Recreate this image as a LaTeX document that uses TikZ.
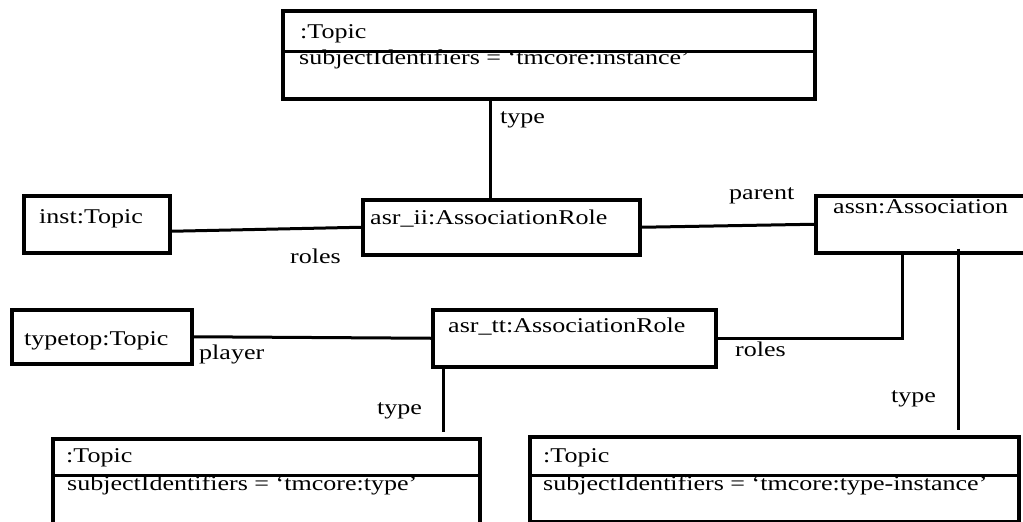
\documentclass[tikz,border=0pt]{standalone}
\usepackage{fontspec}
\setmainfont{Liberation Serif}[FakeStretch=1.24]
\usetikzlibrary{positioning, calc}

\begin{document}
\begin{tikzpicture}[x=1pt, y=-1pt, font=\fontsize{21}{25}\selectfont,
    objbox/.style={draw, line width=3.5pt, anchor=north west, inner sep=0pt},
    txt/.style={anchor=base west, inner sep=0pt},
    conn/.style={line width=3pt}]
    \useasboundingbox (0,0) rectangle (1023,522);
    \clip (0,0) rectangle (1023,522);

    % object boxes
    \node[objbox, minimum width=532pt, minimum height=88pt] (insttype) at (281,9) {};
    \node[objbox, minimum width=146pt, minimum height=57pt] (inst) at (22,194) {};
    \node[objbox, minimum width=277pt, minimum height=55pt] (asrii) at (361,198) {};
    \node[objbox, minimum width=209pt, minimum height=57pt] (assn) at (814,194) {};
    \node[objbox, minimum width=180pt, minimum height=54pt] (typetop) at (10,308) {};
    \node[objbox, minimum width=283pt, minimum height=57pt] (asrtt) at (431,308) {};
    \node[objbox, minimum width=427pt, minimum height=120pt] (typetopic) at (51,437) {};
    \node[objbox, minimum width=489pt, minimum height=85pt] (titopic) at (528,435) {};

    % compartment lines
    \draw[line width=3pt] ($(insttype.north west)+(0,42)$) -- ($(insttype.north east)+(0,42)$);
    \draw[line width=3pt] ($(typetopic.north west)+(0,38)$) -- ($(typetopic.north east)+(0,38)$);
    \draw[line width=3pt] ($(titopic.north west)+(0,40)$) -- ($(titopic.north east)+(-4,40)$);

    % box texts
    \node[txt] (insttype-name) at (300,38) {:Topic};
    \node[txt] (insttype-attr) at (299,64) {subjectIdentifiers = ‘tmcore:instance’};
    \node[txt] (inst-name) at (39,223) {inst:Topic};
    \node[txt] (asrii-name) at (370,224) {asr\_ii:AssociationRole};
    \node[txt] (assn-name) at (833,213) {assn:Association};
    \node[txt] (typetop-name) at (24,345) {typetop:Topic};
    \node[txt] (asrtt-name) at (448,332) {asr\_tt:AssociationRole};
    \node[txt] (typetopic-name) at (66,462) {:Topic};
    \node[txt] (typetopic-attr) at (67,490) {subjectIdentifiers = ‘tmcore:type’};
    \node[txt] (titopic-name) at (543,462) {:Topic};
    \node[txt] (titopic-attr) at (543,490) {subjectIdentifiers = ‘tmcore:type-instance’};

    % connectors
    \coordinate (xa) at (490,0);
    \coordinate (xb) at (902,0);
    \coordinate (xc) at (958,0);
    \coordinate (xd) at (443,0);
    \draw[conn] (insttype.south -| xa) -- (asrii.north -| xa);
    \draw[conn] ([yshift=-7pt]inst.east) -- (asrii.west);
    \draw[conn] (asrii.east) -- (assn.west);
    \draw[conn] (assn.south -| xb) |- (asrtt.east);
    \draw[conn] ($(assn.south -| xc)+(0,-6)$) -- ($(titopic.north -| xc)+(0,-5)$);
    \draw[conn] (typetop.east) -- (asrtt.west);
    \draw[conn] (asrtt.south -| xd) -- ($(typetopic.north -| xd)+(0,-5)$);

    % role labels
    \node[txt] (l-type1) at (500,123) {type};
    \node[txt] (l-roles1) at (290,263) {roles};
    \node[txt] (l-parent) at (729,199) {parent};
    \node[txt] (l-player) at (199,359) {player};
    \node[txt] (l-roles2) at (735,356) {roles};
    \node[txt] (l-type2) at (377,414) {type};
    \node[txt] (l-type3) at (891,402) {type};
\end{tikzpicture}
\end{document}
